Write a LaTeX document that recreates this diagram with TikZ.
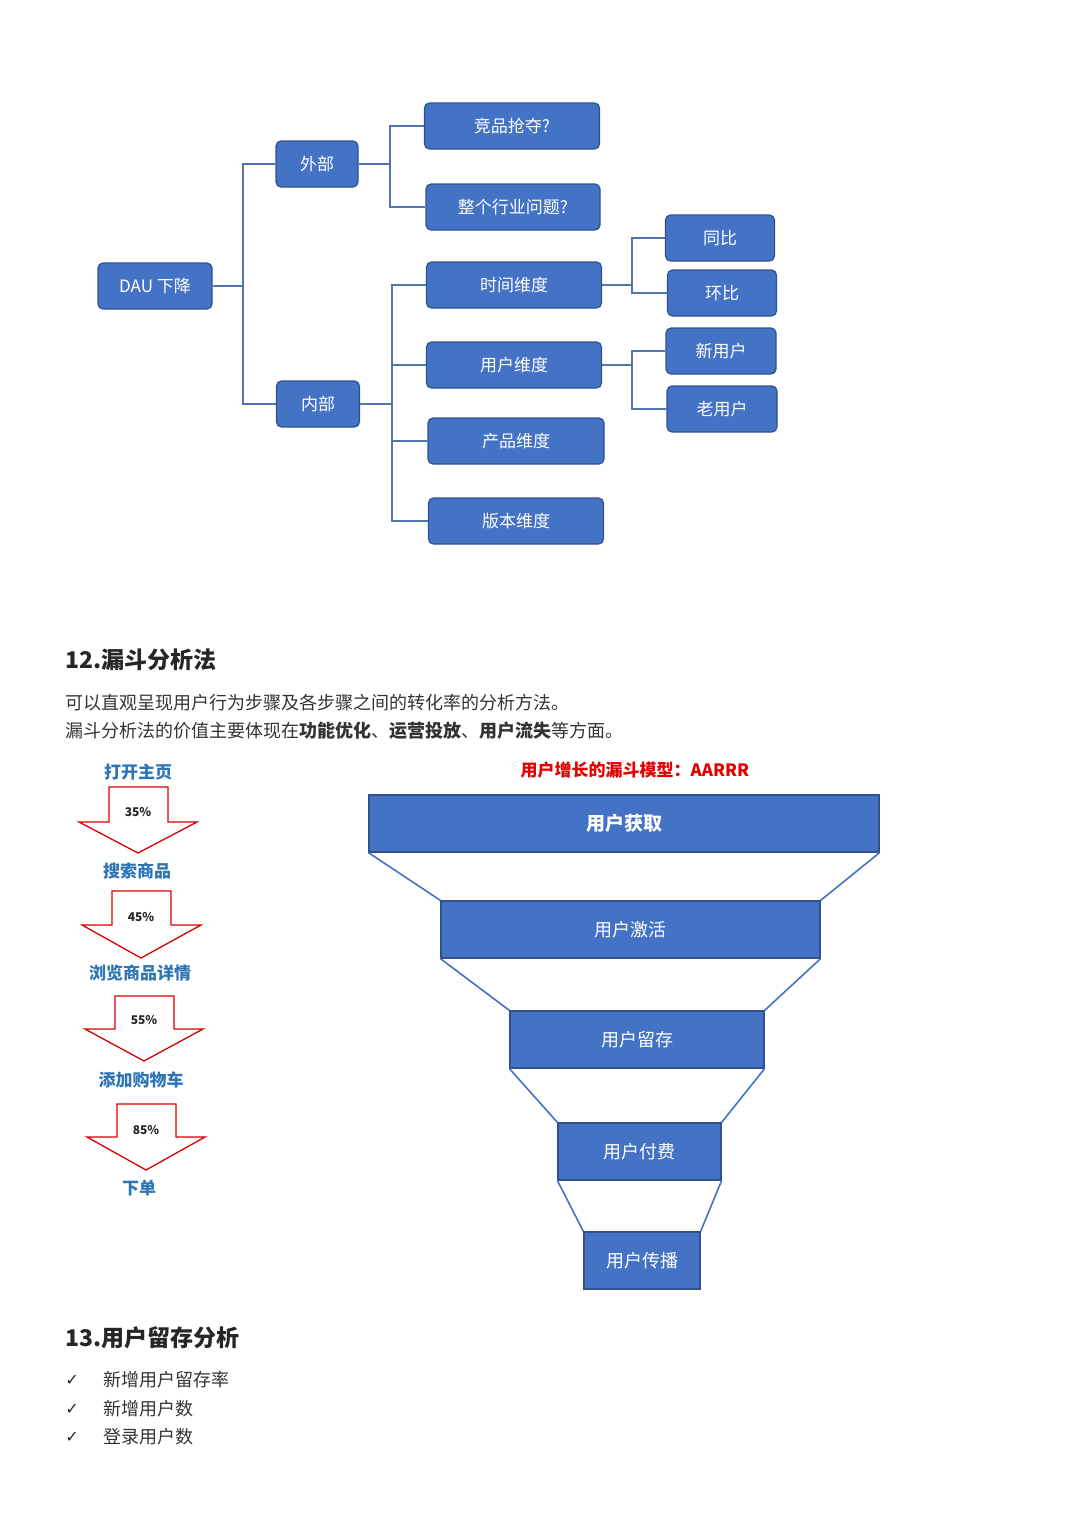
\documentclass[tikz,border=0pt]{standalone}
\usepackage{fontspec}
\setmainfont{Noto Sans CJK SC}
\newfontfamily\cjk{Noto Sans CJK SC}
\newfontfamily\djv{DejaVu Sans}
\definecolor{bx}{HTML}{4472C4}
\definecolor{bd}{HTML}{2F528F}
\definecolor{ln}{HTML}{5075B0}
\definecolor{lb}{HTML}{2E75B6}
\definecolor{tx}{HTML}{333333}
\begin{document}
\begin{tikzpicture}[x=1pt,y=-1pt,
 box/.style={draw=bd,line width=1.2pt,fill=bx,rounded corners=5pt,text=white,font=\fontsize{17}{17}\selectfont,inner sep=0pt,minimum height=46pt},
 con/.style={draw=ln,line width=1.6pt},
 fb/.style={draw=bd,line width=1.2pt,fill=bx,text=white,inner sep=0pt,minimum height=57pt,font=\fontsize{18}{18}\selectfont},
 fl/.style={draw=bx,line width=1.6pt},
 ar/.style={draw=red!85!black,line width=1.3pt,fill=white},
 st/.style={text=lb,font=\bfseries\fontsize{17}{17}\selectfont},
 pc/.style={font=\bfseries\fontsize{12}{12}\selectfont,text=black!85}]
\useasboundingbox (0,0) rectangle (1080,1528);
% tree
\node[box,minimum width=114pt] (dau) at (155,286) {DAU 下降};
\node[box,minimum width=82pt] (wb) at (317,164) {外部};
\node[box,minimum width=83pt] (nb) at (318,404) {内部};
\node[box,minimum width=175pt] (jp) at (512,126) {竞品抢夺?};
\node[box,minimum width=174pt] (hy) at (513,207) {整个行业问题?};
\node[box,minimum width=175pt] (sj) at (514,285) {时间维度};
\node[box,minimum width=175pt] (yh) at (514,365) {用户维度};
\node[box,minimum width=176pt] (cp) at (516,441) {产品维度};
\node[box,minimum width=175pt] (bb) at (516,521) {版本维度};
\node[box,minimum width=109pt] (tb) at (720,238) {同比};
\node[box,minimum width=109pt] (hb) at (722,293) {环比};
\node[box,minimum width=110pt] (xy) at (721,351) {新用户};
\node[box,minimum width=110pt] (ly) at (722,409) {老用户};
\draw[con] (dau.east) -- (243,286);
\draw[con] (wb.west) -| (243,164) |- (nb.west);
\draw[con] (wb.east) -- (390,164);
\draw[con] (jp.west) -| (390,126) |- (hy.west);
\draw[con] (nb.east) -- (392,404);
\draw[con] (sj.west) -| (392,285) |- (bb.west);
\draw[con] (yh.west) -- (392,365);
\draw[con] (cp.west) -- (392,441);
\draw[con] (sj.east) -- (632,285);
\draw[con] (tb.west) -| (632,238) |- (hb.west);
\draw[con] (yh.east) -- (632,365);
\draw[con] (xy.west) -| (632,351) |- (ly.west);
% section 12
\node[anchor=west,font=\bfseries\fontsize{23}{23}\selectfont,text=black!85] (h12) at (62,660) {12.漏斗分析法};
\node[anchor=west,font=\fontsize{18}{18}\selectfont,text=tx] (t1) at (62,703) {可以直观呈现用户行为步骤及各步骤之间的转化率的分析方法。};
\node[anchor=west,font=\fontsize{18}{18}\selectfont,text=tx] (t2) at (62,731) {漏斗分析法的价值主要体现在\textbf{功能优化}、\textbf{运营投放}、\textbf{用户流失}等方面。};
% arrows
\node[st] (s1) at (138,772) {打开主页};
\draw[ar] (109,787) -- (168,787) -- (168,822) -- (197,822) -- (138,853) -- (79,822) -- (109,822) -- cycle;
\node[pc] (p1) at (138,812) {35\%};
\node[st] (s2) at (137,871) {搜索商品};
\draw[ar] (112,891) -- (171,891) -- (171,925) -- (201,925) -- (141,958) -- (82,925) -- (112,925) -- cycle;
\node[pc] (p2) at (141,917) {45\%};
\node[st] (s3) at (140,973) {浏览商品详情};
\draw[ar] (115,996) -- (174,996) -- (174,1029) -- (203,1029) -- (144,1061) -- (85,1029) -- (115,1029) -- cycle;
\node[pc] (p3) at (144,1020) {55\%};
\node[st] (s4) at (141,1080) {添加购物车};
\draw[ar] (117,1104) -- (176,1104) -- (176,1137) -- (205,1137) -- (146,1170) -- (87,1137) -- (117,1137) -- cycle;
\node[pc] (p4) at (146,1130) {85\%};
\node[st] (s5) at (139,1188) {下单};
% funnel
\node[text=red!90!black,font=\bfseries\fontsize{17}{17}\selectfont] (ft) at (635,770) {用户增长的漏斗模型：AARRR};
\node[fb,minimum width=510pt,font=\bfseries\fontsize{19}{19}\selectfont] (f1) at (624,823.5) {用户获取};
\node[fb,minimum width=379pt] (f2) at (630.5,929.5) {用户激活};
\node[fb,minimum width=254pt] (f3) at (637,1039.5) {用户留存};
\node[fb,minimum width=163pt] (f4) at (639.5,1151.5) {用户付费};
\node[fb,minimum width=116pt] (f5) at (642,1260.5) {用户传播};
\draw[fl] (f1.south west) -- (f2.north west); \draw[fl] (f1.south east) -- (f2.north east);
\draw[fl] (f2.south west) -- (f3.north west); \draw[fl] (f2.south east) -- (f3.north east);
\draw[fl] (f3.south west) -- (f4.north west); \draw[fl] (f3.south east) -- (f4.north east);
\draw[fl] (f4.south west) -- (f5.north west); \draw[fl] (f4.south east) -- (f5.north east);
% section 13
\node[anchor=west,font=\bfseries\fontsize{23}{23}\selectfont,text=black!85] (h13) at (62,1338) {13.用户留存分析};
\foreach \y/\t [count=\i] in {1380/新增用户留存率,1409/新增用户数,1437/登录用户数}{
 \node[font=\djv\fontsize{16}{16}\selectfont,text=black!85] (c\i) at (72,\y) {✓};
 \node[anchor=west,font=\fontsize{18}{18}\selectfont,text=tx] (l\i) at (100,\y) {\t};
}
\end{tikzpicture}
\end{document}
